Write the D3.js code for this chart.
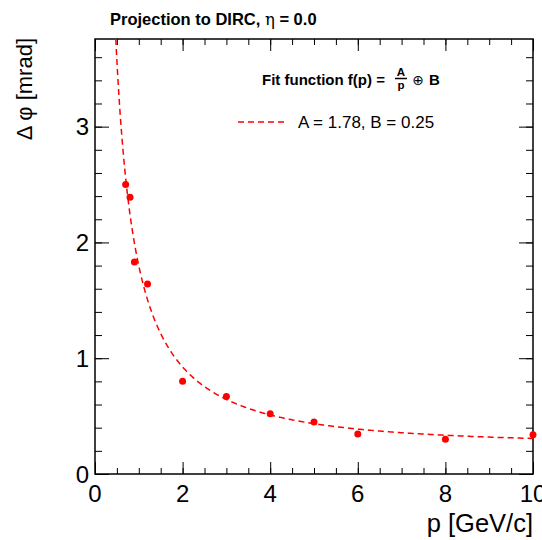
<!DOCTYPE html>
<html>
<head>
<meta charset="utf-8">
<script src="https://cdn.jsdelivr.net/npm/d3@7"></script>
<style>
  body { margin: 0; background: #fff; }
  text { font-family: "Liberation Sans", Arial, Helvetica, sans-serif; }
</style>
</head>
<body>
<script>
// measured points (p in GeV/c, resolution in mrad)
var pValues = [0.7, 0.8, 0.9, 1.2, 2, 3, 4, 5, 6, 8, 10];
var dphiValues = [2.50, 2.39, 1.83, 1.64, 0.80, 0.67, 0.52, 0.45, 0.345, 0.30, 0.34];

// fit parameters
var fitA = 1.78, fitB = 0.25;

var xTicks = [0, 2, 4, 6, 8, 10];
var yTicks = [0, 1, 2, 3];

var width = 542, height = 540;
var frame = {left: 95, right: 533, top: 39, bottom: 474};

var svg = d3.select("body").append("svg")
    .attr("width", width)
    .attr("height", height);

var x = d3.scaleLinear().domain([0, 10]).range([frame.left, frame.right]);
var y = d3.scaleLinear().domain([0, 3.757]).range([frame.bottom, frame.top]);

//Ticks: major + minor, on all four sides, pointing inward
var xMinor = d3.range(0, 10.01, 0.5);
var yMinor = d3.range(0, 3.75, 0.2);

function tickGroup(axis, tx, ty) {
    var g = svg.append("g")
        .attr("transform", "translate(" + tx + "," + ty + ")")
        .call(axis);
    g.select(".domain").remove();
    g.selectAll("line").attr("stroke", "#000").attr("stroke-width", 1);
    return g;
}

tickGroup(d3.axisBottom(x).tickValues(xMinor).tickSize(-6).tickFormat(""), 0, frame.bottom);
tickGroup(d3.axisTop(x).tickValues(xMinor).tickSize(-6).tickFormat(""), 0, frame.top);
tickGroup(d3.axisBottom(x).tickValues(xTicks).tickSize(-12).tickFormat(""), 0, frame.bottom);
tickGroup(d3.axisTop(x).tickValues(xTicks).tickSize(-12).tickFormat(""), 0, frame.top);

tickGroup(d3.axisLeft(y).tickValues(yMinor).tickSize(-7).tickFormat(""), frame.left, 0);
tickGroup(d3.axisRight(y).tickValues(yMinor).tickSize(-7).tickFormat(""), frame.right, 0);
tickGroup(d3.axisLeft(y).tickValues(yTicks).tickSize(-14).tickFormat(""), frame.left, 0);
tickGroup(d3.axisRight(y).tickValues(yTicks).tickSize(-14).tickFormat(""), frame.right, 0);

//Tick labels
svg.append("g").selectAll("text")
    .data(xTicks)
    .enter().append("text")
    .attr("x", function (d) { return x(d); })
    .attr("y", 502)
    .attr("text-anchor", "middle")
    .style("font-size", "24px")
    .text(function (d) { return d; });

svg.append("g").selectAll("text")
    .data(yTicks)
    .enter().append("text")
    .attr("x", 89)
    .attr("y", function (d) { return y(d) + 8.5; })
    .attr("text-anchor", "end")
    .style("font-size", "24px")
    .text(function (d) { return d; });

//Frame
svg.append("rect")
    .attr("x", frame.left)
    .attr("y", frame.top)
    .attr("width", frame.right - frame.left)
    .attr("height", frame.bottom - frame.top)
    .attr("fill", "none")
    .attr("stroke", "#000")
    .attr("stroke-width", 1.5);

//Fit curve  f(p) = A/p (+) B
svg.append("clipPath").attr("id", "frameclip")
    .append("rect")
    .attr("x", frame.left).attr("y", frame.top)
    .attr("width", frame.right - frame.left)
    .attr("height", frame.bottom - frame.top);

var pStart = fitA / Math.sqrt(y.domain()[1] * y.domain()[1] - fitB * fitB);
var curveP = d3.range(pStart, 10.0001, 0.02);
var line = d3.line()
    .x(function (d) { return x(d); })
    .y(function (d) { return y(Math.sqrt((fitA / d) * (fitA / d) + fitB * fitB)); });

svg.append("path")
    .datum(curveP)
    .attr("clip-path", "url(#frameclip)")
    .attr("d", line)
    .attr("fill", "none")
    .attr("stroke", "#ff0000")
    .attr("stroke-width", 1.5)
    .attr("stroke-dasharray", "6,4");

//Points
svg.append("g").selectAll("circle")
    .data(pValues)
    .enter().append("circle")
    .attr("cx", function (d) { return x(d); })
    .attr("cy", function (d, i) { return y(dphiValues[i]); })
    .attr("r", 3.5)
    .attr("fill", "#ff0000");

//Title
var title = svg.append("text")
    .attr("x", 110)
    .attr("y", 25)
    .style("font-size", "16.5px")
    .style("font-weight", "bold");
title.append("tspan").text("Projection to DIRC, ");
title.append("tspan").style("font-weight", "normal").style("font-family", "'DejaVu Serif', serif").text("η");
title.append("tspan").text(" = 0.0");

//Axis titles
svg.append("text")
    .attr("transform", "translate(32,38) rotate(-90)")
    .attr("text-anchor", "end")
    .style("font-size", "22px")
    .text("Δ φ [mrad]");

svg.append("text")
    .attr("x", 533)
    .attr("y", 532)
    .attr("text-anchor", "end")
    .style("font-size", "25.5px")
    .text("p [GeV/c]");

//Legend header with fraction
var header = svg.append("g").style("font-weight", "bold").style("font-size", "15px");
header.append("text")
    .attr("x", 262)
    .attr("y", 85)
    .text("Fit function f(p) =");
header.append("text")
    .attr("x", 401).attr("y", 75.5)
    .attr("text-anchor", "middle")
    .style("font-size", "11.5px")
    .text("A");
header.append("line")
    .attr("x1", 395).attr("x2", 407)
    .attr("y1", 78.5).attr("y2", 78.5)
    .attr("stroke", "#000").attr("stroke-width", 1.5);
header.append("text")
    .attr("x", 401).attr("y", 89)
    .attr("text-anchor", "middle")
    .style("font-size", "11.5px")
    .text("p");
header.append("text")
    .attr("x", 418).attr("y", 85)
    .attr("text-anchor", "middle")
    .style("font-weight", "normal")
    .style("font-family", "'DejaVu Sans', sans-serif")
    .style("font-size", "14px")
    .text("⊕");
header.append("text")
    .attr("x", 429).attr("y", 85)
    .text("B");

//Legend entry
svg.append("line")
    .attr("x1", 238).attr("x2", 287)
    .attr("y1", 122).attr("y2", 122)
    .attr("stroke", "#ff0000")
    .attr("stroke-width", 1.5)
    .attr("stroke-dasharray", "6,4");

svg.append("text")
    .attr("x", 298)
    .attr("y", 128)
    .style("font-size", "17px")
    .text("A = " + fitA.toFixed(2) + ", B = " + fitB.toFixed(2));
</script>
</body>
</html>
